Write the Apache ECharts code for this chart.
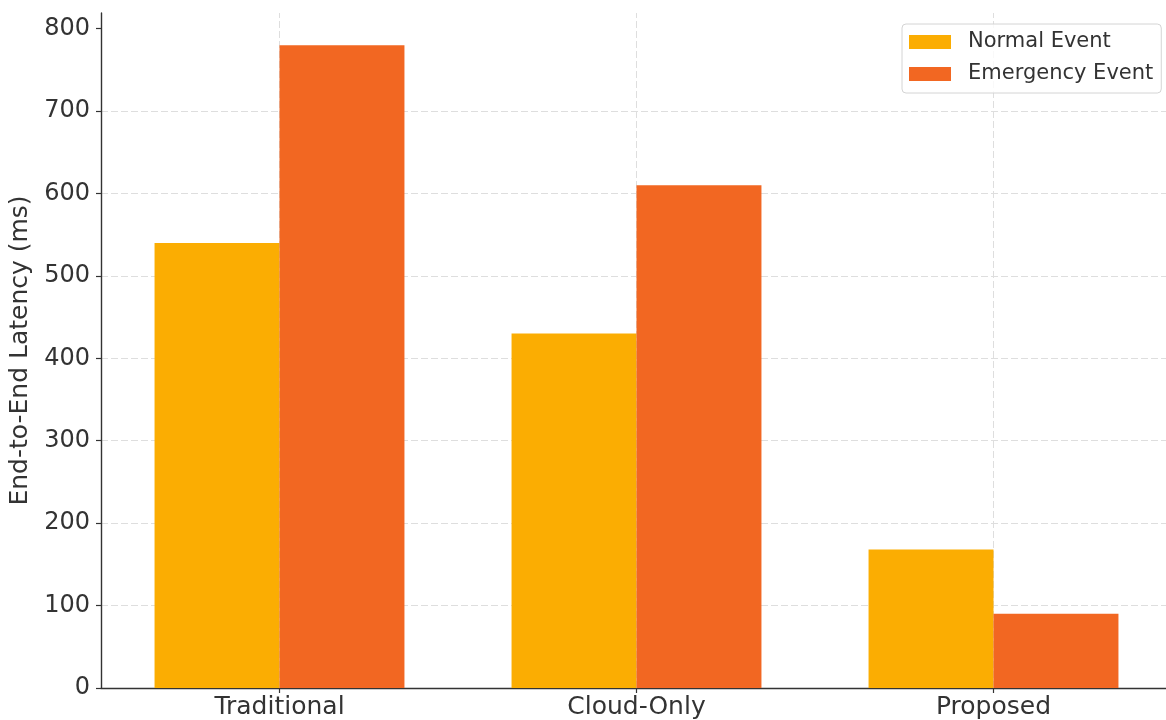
<!DOCTYPE html>
<html>
<head>
<meta charset="utf-8">
<script src="https://cdn.jsdelivr.net/npm/echarts@6/dist/echarts.min.js"></script>
<style>
  html, body { margin: 0; padding: 0; background: #fff; }
  #chart { width: 1166px; height: 720px; }
</style>
</head>
<body>
<div id="chart"></div>
<script>
// Latency per architecture, for normal vs. emergency events (ms)
const categories = ['Traditional', 'Cloud-Only', 'Proposed'];
const normalLatency = [540, 430, 168];
const emergencyLatency = [780, 610, 90];
const yTicks = [0, 100, 200, 300, 400, 500, 600, 700, 800];

const FONT = 'DejaVu Sans';
const TEXT = '#333333';
const AXIS = '#333333';
const GRID = '#dedede';

const chart = echarts.init(document.getElementById('chart'), null, { renderer: 'canvas' });

chart.setOption({
  animation: false,
  backgroundColor: '#ffffff',
  textStyle: { fontFamily: FONT },
  grid: {
    left: 101, top: 13, bottom: 32, width: 1071,
    containLabel: false,
    outerBoundsMode: 'none'
  },
  legend: {
    orient: 'vertical',
    left: 902,
    top: 24,
    padding: [7, 8, 8, 7],
    itemGap: 10,
    itemWidth: 42,
    itemHeight: 14,
    icon: 'rect',
    backgroundColor: 'rgba(255,255,255,0.8)',
    borderColor: '#d4d4d4',
    borderWidth: 1,
    borderRadius: 4,
    textStyle: { fontFamily: FONT, fontSize: 21, color: TEXT, lineHeight: 22, padding: [0, 0, 0, 12] },
    data: ['Normal Event', 'Emergency Event']
  },
  xAxis: {
    type: 'category',
    data: categories,
    axisLine: { lineStyle: { color: AXIS, width: 1.4 } },
    axisTick: { show: true, alignWithLabel: true, length: 5, lineStyle: { color: AXIS, width: 1.2 } },
    axisLabel: { fontFamily: FONT, fontSize: 25, color: TEXT, margin: 7 },
    splitLine: { show: false }
  },
  yAxis: {
    type: 'value',
    min: 0,
    max: 819,
    interval: 100,
    name: 'End-to-End Latency (ms)',
    nameLocation: 'middle',
    nameGap: 67,
    nameRotate: 90,
    nameTextStyle: { fontFamily: FONT, fontSize: 25, color: TEXT },
    axisLine: { show: true, lineStyle: { color: AXIS, width: 1.4 } },
    axisTick: { show: true, length: 5, customValues: yTicks, lineStyle: { color: AXIS, width: 1.2 } },
    axisLabel: { fontFamily: FONT, fontSize: 24, color: TEXT, margin: 11, customValues: yTicks },
    splitLine: { show: true, showMaxLine: false, lineStyle: { color: GRID, width: 1, type: [7, 3] } }
  },
  series: [
    {
      name: 'Normal Event',
      type: 'bar',
      data: normalLatency,
      barGap: '0%',
      barCategoryGap: '30%',
      itemStyle: { color: '#FBAD02' },
      z: 2
    },
    {
      name: 'Emergency Event',
      type: 'bar',
      data: emergencyLatency,
      barGap: '0%',
      barCategoryGap: '30%',
      itemStyle: { color: '#F26722' },
      z: 2
    },
    {
      // vertical grid lines through each category centre, kept behind the bars
      name: 'category-grid',
      type: 'line',
      data: [],
      silent: true,
      z: 1,
      markLine: {
        silent: true,
        z: 1,
        symbol: 'none',
        animation: false,
        label: { show: false },
        lineStyle: { color: GRID, width: 1, type: [7, 3] },
        data: categories.map(c => ({ xAxis: c }))
      }
    }
  ]
});
</script>
</body>
</html>
